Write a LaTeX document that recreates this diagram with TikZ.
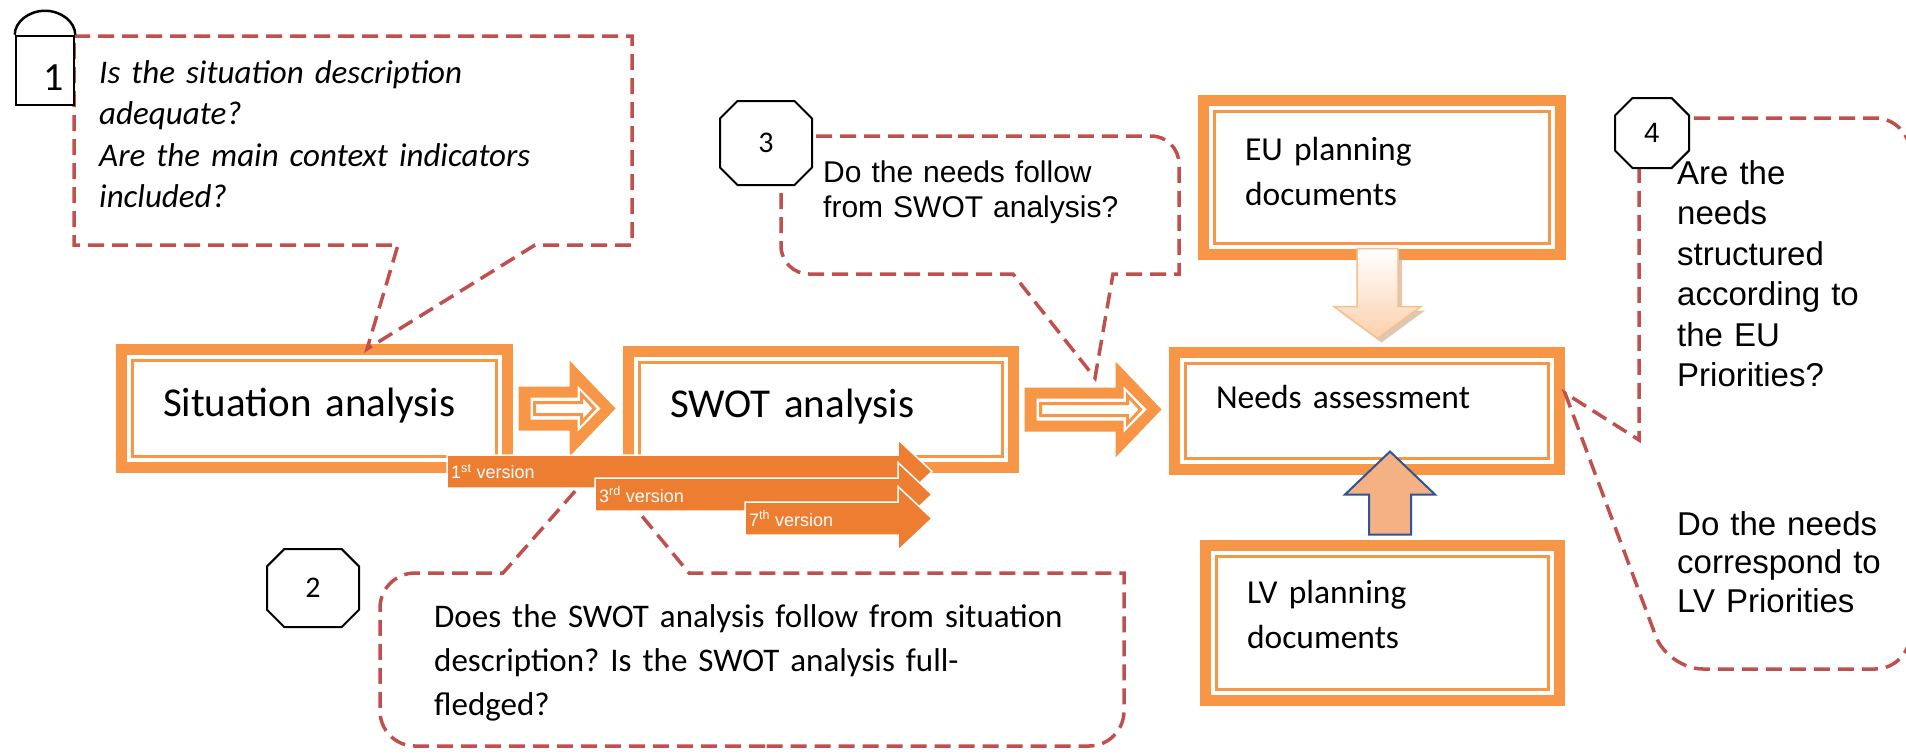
\documentclass[tikz,border=0pt]{standalone}
\usepackage{fontspec}
\setmainfont{Carlito}
\newfontfamily\arialfont{Liberation Sans}
\usetikzlibrary{calc,shapes.misc}
\frenchspacing

\definecolor{boxorange}{HTML}{F79646}
\definecolor{barorange}{HTML}{ED7D31}
\definecolor{askred}{HTML}{C0504D}
\definecolor{upfill}{HTML}{F4B183}
\definecolor{upline}{HTML}{2F5597}
\definecolor{downline}{HTML}{F9BE8C}
\definecolor{downfill}{HTML}{FBD0AC}
\definecolor{downshadow}{HTML}{C8A482}

\tikzset{
  procbox/.style={draw=boxorange, line width=11pt, fill=white, inner xsep=41.5pt, inner ysep=0pt,
    align=left, path picture={\draw[boxorange, line width=3.5pt]
      ([shift={(11pt,-11pt)}]path picture bounding box.north west) rectangle
      ([shift={(-11pt,11pt)}]path picture bounding box.south east);}},
  askline/.style={draw=askred, line width=3.5pt, dash pattern=on 16pt off 8pt},
  stopsign/.style={chamfered rectangle, draw, line width=2pt, fill=white, inner sep=0pt},
  asktext/.style={anchor=base west, inner sep=0pt, align=left},
  verlabel/.style={anchor=west, inner sep=0pt, text=white, font=\arialfont\fontsize{18}{20}\selectfont}
}

% orange block arrow with a thin double outline inside
\newcommand{\flowarrow}[2]{%
  \fill[boxorange] let \p1=($(#1.east)+(5.5pt,0)$), \p2=($(#2.west)+(-7.5pt,0)$) in
    (\x1,\y1+22pt) -- (\x2-46pt,\y1+22pt) -- (\x2-46pt,\y1+48pt) -- (\x2,\y1)
    -- (\x2-46pt,\y1-48pt) -- (\x2-46pt,\y1-22pt) -- (\x1,\y1-22pt) -- cycle;
  \fill[white] let \p1=($(#1.east)+(5.5pt,0)$), \p2=($(#2.west)+(-7.5pt,0)$) in
    (\x1+12pt,\y1+11pt) -- (\x2-38pt,\y1+11pt) -- (\x2-38pt,\y1+23pt) -- (\x2-15pt,\y1)
    -- (\x2-38pt,\y1-23pt) -- (\x2-38pt,\y1-11pt) -- (\x1+12pt,\y1-11pt) -- cycle;
  \draw[boxorange, line width=3pt, fill=white] let \p1=($(#1.east)+(5.5pt,0)$), \p2=($(#2.west)+(-7.5pt,0)$) in
    (\x1+16pt,\y1+6pt) -- (\x2-34pt,\y1+6pt) -- (\x2-34pt,\y1+14pt) -- (\x2-21pt,\y1)
    -- (\x2-34pt,\y1-14pt) -- (\x2-34pt,\y1-6pt) -- (\x1+16pt,\y1-6pt) -- cycle;}

% one version bar, tips all end at the same place
\newcommand{\versionbar}[4]{%
  \draw[white, line width=1.5pt, fill=barorange] (#2,#3-16.5) -- (898,#3-16.5) -- (898,#3-32)
    -- (932,#3) -- (898,#3+32) -- (898,#3+16.5) -- (#2,#3+16.5) -- cycle;
  \node[verlabel] (#1) at (#2+4,#3) {#4};}

\begin{document}
\begin{tikzpicture}[x=1pt, y=-1pt]
  \path[use as bounding box, fill=white] (0,0) rectangle (1906,753);

  % main chain
  \node[procbox, minimum width=386pt, minimum height=118pt, text width=303pt, text height=25pt, text depth=10pt,
        font=\fontsize{41}{48}\selectfont] (sit) at (314.5,408.5) {Situation analysis};
  \node[procbox, minimum width=385pt, minimum height=116pt, text width=302pt, text height=25pt, text depth=10pt,
        font=\fontsize{41}{48}\selectfont] (swot) at (821,409.5) {SWOT analysis};
  \node[procbox, minimum width=385pt, minimum height=117pt, text width=302pt, text height=22pt, text depth=28pt,
        font=\fontsize{33.5}{45}\selectfont] (needs) at (1367,411) {Needs assessment};
  \node[procbox, minimum width=357pt, minimum height=154pt, text width=274pt, text height=20pt, text depth=55pt,
        font=\fontsize{33.5}{45}\selectfont] (eu) at (1382,177.5) {EU planning\\documents};
  \node[procbox, minimum width=354pt, minimum height=155pt, text width=271pt, text height=20pt, text depth=60pt,
        font=\fontsize{33.5}{45}\selectfont] (lv) at (1382.5,623) {LV planning\\documents};

  \flowarrow{sit}{swot}
  \flowarrow{swot}{needs}

  % EU documents down into needs
  \fill[downshadow, opacity=0.6] let \p1=($(eu.south)+(-0.5pt,7.5pt)$), \p2=($(needs.north)+(-0.5pt,4.5pt)$) in
    (\x1-20.5pt,\y1) -- (\x1+20.5pt,\y1) -- (\x1+20.5pt,\y2+32pt) -- (\x1+43.5pt,\y2+32pt) -- (\x1,\y2)
    -- (\x1-43.5pt,\y2+32pt) -- (\x1-20.5pt,\y2+32pt) -- cycle;
  \path[draw=downline, line width=1.5pt, top color=white, bottom color=downfill]
    let \p1=($(eu.south)+(-4.5pt,11.5pt)$), \p2=($(needs.north)+(-4.5pt,8.5pt)$) in
    (\x1-20.5pt,\y1) -- (\x1+20.5pt,\y1) -- (\x1+20.5pt,\y2+32pt) -- (\x1+43.5pt,\y2+32pt) -- (\x1,\y2)
    -- (\x1-43.5pt,\y2+32pt) -- (\x1-20.5pt,\y2+32pt) -- cycle;
  % LV documents up into needs
  \draw[upline, line width=2pt, fill=upfill] let \p1=($(lv.north)+(7.5pt,5.5pt)$), \p2=($(needs.south)+(7.5pt,23.5pt)$) in
    (\x1-21pt,\y1) -- (\x1-21pt,\y2-43pt) -- (\x1-45pt,\y2-43pt) -- (\x1,\y2)
    -- (\x1+45pt,\y2-43pt) -- (\x1+21pt,\y2-43pt) -- (\x1+21pt,\y1) -- cycle;

  % question callouts
  \coordinate (tip1) at (367,349);
  \coordinate (tip2) at (599,464);
  \coordinate (tip3) at (1095,378);
  \coordinate (tip4) at (1565,393);
  \draw[askline] (74,36) -- (632,36) -- (632,245) -- (535,245) -- (tip1) -- (398,245) -- (74,245) -- cycle;
  \draw[askline, rounded corners=35pt] (800,746) -- (380,746) -- (380,573) [sharp corners] -- (503,573)
    -- (tip2) -- (689,573) -- (1124,573) [rounded corners=35pt] -- (1124,746) -- cycle;
  \draw[askline, rounded corners=28pt] (980,136) -- (781,136) -- (781,274) [sharp corners] -- (1013,274)
    -- (tip3) -- (1113,274) -- (1179,274) [rounded corners=28pt] -- (1179,136) -- cycle;
  \draw[askline, rounded corners=35pt] (1780,118) -- (1910,118) -- (1910,669) -- (1668,669) [sharp corners]
    -- (tip4) -- (1639,440) -- (1639,118) [rounded corners=35pt] -- cycle;

  % versions of the SWOT
  \versionbar{v1}{447}{471.5}{1\textsuperscript{st} version}
  \versionbar{v3}{595}{494.5}{3\textsuperscript{rd} version}
  \versionbar{v7}{745}{518.5}{7\textsuperscript{th} version}

  % numbered markers
  \node[draw, line width=2.5pt, fill=white, minimum width=58pt, minimum height=69pt, inner xsep=10pt,
        inner ysep=0pt, text width=38pt, align=right, text height=39pt, text depth=0pt,
        font=\fontsize{40}{44}\selectfont] (b1) at (45,70.5) {1};
  \draw[line width=2.5pt] (b1.north west) .. controls +(0,-13) and +(-16,0) .. ($(b1.north)+(0,-24)$)
    .. controls +(16,0) and +(0,-13) .. (b1.north east);
  \node[stopsign, minimum width=92pt, minimum height=78pt, chamfered rectangle sep=21pt,
        font=\fontsize{30}{34}\selectfont] (o2) at (313,588) {2};
  \node[stopsign, minimum width=92pt, minimum height=84pt, chamfered rectangle sep=25pt,
        font=\fontsize{30}{34}\selectfont] (o3) at (766,143) {3};
  \node[stopsign, minimum width=74pt, minimum height=70pt, chamfered rectangle sep=20pt,
        font=\arialfont\fontsize{28}{32}\selectfont] (o4) at (1652,133) {4};

  % question texts
  \node[asktext, text width=520pt, font=\itshape\fontsize{33}{41.5}\selectfont] (q1) at (99,83)
    {Is the situation description\\adequate?\\Are the main context indicators\\included?};
  \node[asktext, text width=680pt, font=\fontsize{33}{44}\selectfont] (q2) at (434,627)
    {Does the SWOT analysis follow from situation\\description? Is the SWOT analysis full-\\fledged?};
  \node[asktext, text width=340pt, font=\arialfont\fontsize{30}{35}\selectfont] (q3) at (823,182)
    {Do the needs follow\\from SWOT analysis?};
  \node[asktext, text width=225pt, font=\arialfont\fontsize{33}{40.5}\selectfont] (q4a) at (1677,184)
    {Are the\\needs\\structured\\according to\\the EU\\Priorities?};
  \node[asktext, text width=225pt, font=\arialfont\fontsize{33}{38.5}\selectfont] (q4b) at (1677,535)
    {Do the needs\\correspond to\\LV Priorities};
\end{tikzpicture}
\end{document}
